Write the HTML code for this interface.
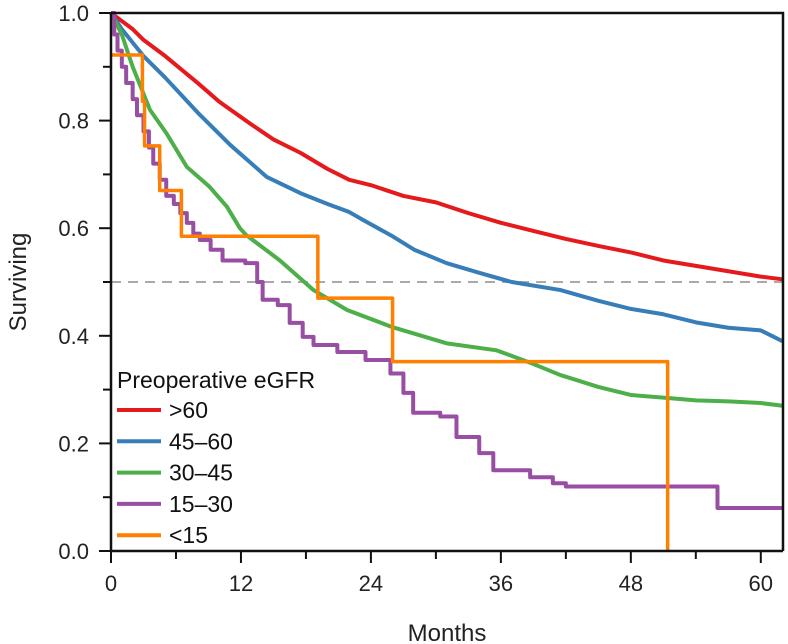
<!DOCTYPE html>
<html><head><meta charset="utf-8"><style>
body{margin:0;background:#fff;}
svg{display:block;font-family:"Liberation Sans",Arial,sans-serif;}
</style></head><body>
<svg id="chart" width="788" height="644" viewBox="0 0 788 644">
<g id="plot"></g>
</svg>
<script>
const xTicks=[0,12,24,36,48,60];
const yTicks=[0.0,0.2,0.4,0.6,0.8,1.0];
const seriesNames=[">60","45\u201360","30\u201345","15\u201330","<15"];
const seriesColors=["#e41a1c","#377eb8","#4daf4a","#984ea3","#ff7f00"];
const redT=[0,1,2,3,5,8,10,12.8,15,17.5,20,22,24,27,30,33,36,39,42,45,48,51,54,57,60,62];
const redS=[1,0.985,0.97,0.95,0.92,0.87,0.835,0.795,0.765,0.74,0.71,0.69,0.68,0.66,0.648,0.628,0.61,0.595,0.58,0.567,0.555,0.54,0.53,0.52,0.51,0.505];
const blueT=[0,1,2,3,5,8,11,14.4,17.5,20,22,23.3,26,28,31,34,37,41.5,45,48,51,54,57,60,62];
const blueS=[1,0.97,0.945,0.92,0.88,0.815,0.755,0.695,0.665,0.645,0.63,0.615,0.585,0.56,0.535,0.517,0.5,0.485,0.465,0.45,0.44,0.425,0.415,0.41,0.39];
const greenT=[0,1,2,3.6,5.1,7,9.1,10.7,11.9,12.5,15.6,18.7,21.8,26,31,35.6,38.7,41.5,45,48,51,54,57,60,62];
const greenS=[1,0.96,0.9,0.82,0.777,0.714,0.677,0.64,0.6,0.587,0.54,0.485,0.448,0.416,0.386,0.373,0.35,0.327,0.305,0.29,0.285,0.28,0.278,0.275,0.27];
const purpleT=[0,0.3,0.6,1,1.4,2,2.4,3,3.5,3.9,4.5,5.1,5.8,6.4,7,7.6,8.2,9.2,10.3,12.4,13.5,14,15.4,16.5,17.7,18.7,20.9,23.5,25.8,27,27.9,30.4,31.9,34,35.3,38.7,40.8,42,55,56,62];
const purpleS=[1,0.96,0.93,0.9,0.87,0.84,0.81,0.78,0.75,0.72,0.69,0.66,0.645,0.628,0.61,0.59,0.578,0.56,0.54,0.535,0.5,0.467,0.457,0.424,0.398,0.383,0.37,0.355,0.33,0.294,0.257,0.25,0.212,0.182,0.15,0.137,0.126,0.12,0.12,0.08,0.08];
const orangeT=[0,2.9,3.1,4.5,6.5,19.1,26,51.4];
const orangeS=[0.922,0.836,0.753,0.67,0.585,0.47,0.352,0];
const X0=111,PX=10.83,Y0=551,PY=538;
const xs=t=>X0+t*PX, ys=v=>Y0-v*PY;
const NS="http://www.w3.org/2000/svg";
const g=document.getElementById('plot');
function mk(tag,attrs,parent){const e=document.createElementNS(NS,tag);for(const k in attrs)e.setAttribute(k,attrs[k]);(parent||g).appendChild(e);return e;}
let dl=mk('line',{x1:X0,x2:783,y1:ys(0.5),y2:ys(0.5),stroke:'#aaa','stroke-width':2,'stroke-dasharray':'10,7'});


const allT=[redT,blueT,greenT,purpleT,orangeT],allS=[redS,blueS,greenS,purpleS,orangeS];
const ids=['red','blue','green','purple','orange'];
for(let i=0;i<5;i++){
  const T=allT[i],S=allS[i];let d;
  if(i>=3){
    d='M'+xs(0)+','+ys(S[0]);
    for(let j=1;j<T.length;j++){d+=' L'+xs(T[j])+','+ys(S[j-1])+' L'+xs(T[j])+','+ys(S[j]);}
  } else {
    d='M'+xs(T[0])+','+ys(S[0]);
    for(let j=1;j<T.length;j++){d+=' L'+xs(T[j])+','+ys(S[j]);}
  }
  const p=mk('path',{d:d,fill:'none',stroke:seriesColors[i],'stroke-width':i===4?3.5:4,'stroke-linejoin':'round'});
  
  
}
let fr=mk('path',{d:`M${X0},13 L783,13 L783,${Y0} M${X0},13 L${X0},${Y0} L783,${Y0}`,stroke:'#111','stroke-width':2.5,fill:'none'});


for(let m=0;m<=60;m+=6){mk('line',{x1:xs(m),x2:xs(m),y1:Y0,y2:Y0+(m%12===0?12:8),stroke:'#111','stroke-width':2});}
xTicks.forEach(t=>{const e=mk('text',{x:xs(t),y:Y0+40,'text-anchor':'middle','font-size':22,fill:'#222'});e.textContent=t;

});
for(let v=0;v<=10;v++){mk('line',{x1:X0,x2:X0-(v%2===0?12:8),y1:ys(v/10),y2:ys(v/10),stroke:'#111','stroke-width':2});}
yTicks.forEach(v=>{const e=mk('text',{x:X0-22,y:ys(v)+8,'text-anchor':'end','font-size':22,fill:'#222'});e.textContent=v.toFixed(1);

});
let xt=mk('text',{x:447,y:641,'text-anchor':'middle','font-size':24,fill:'#222'});xt.textContent='Months';


let yt=mk('text',{x:0,y:0,'text-anchor':'middle','font-size':24,fill:'#222',transform:'translate(26,282) rotate(-90)'});yt.textContent='Surviving';


let lt=mk('text',{x:117,y:388,'font-size':23,fill:'#111'});lt.textContent='Preoperative eGFR';


for(let i=0;i<5;i++){
  const cy=410+i*31.3;
  const ln=mk('line',{x1:117,x2:161,y1:cy,y2:cy,stroke:seriesColors[i],'stroke-width':4});
  
  
  const t=mk('text',{x:169,y:cy+8,'font-size':23,fill:'#111'});t.textContent=seriesNames[i];
  
  
}
</script>
</body></html>
